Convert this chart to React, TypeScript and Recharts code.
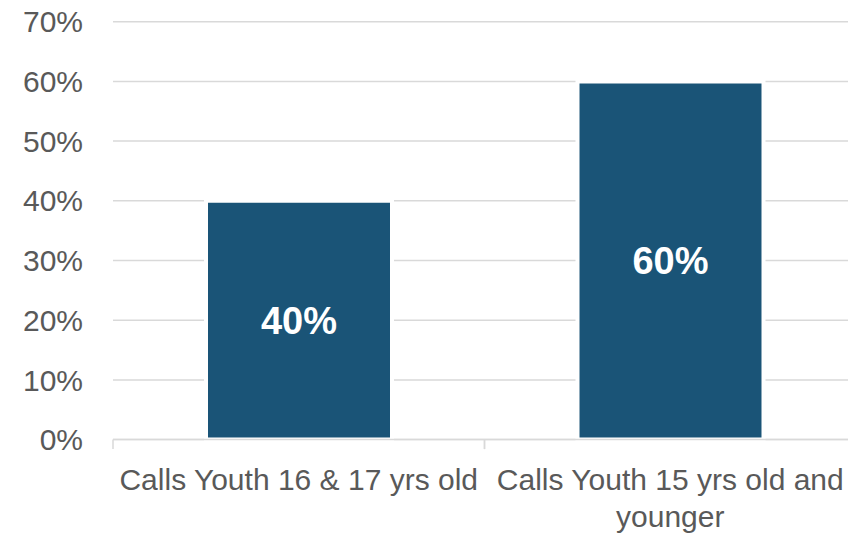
import React from "react";
import { BarChart, Bar, XAxis, YAxis, CartesianGrid, LabelList } from "recharts";

const categories = ["Calls Youth 16 & 17 yrs old", "Calls Youth 15 yrs old and younger"];
const values = [40, 60];
const yTicks = [0, 10, 20, 30, 40, 50, 60, 70];

const data = categories.map((name, i) => ({ name, value: values[i] }));

const CHART_W = 856;
const CHART_H = 534;
const Y_AXIS_W = 113;
const X_AXIS_H = 94.4;
const TOP = 21.7;
const CAT_W = (CHART_W - Y_AXIS_W) / categories.length;

const TEXT_COLOR = "#595959";
const GRID_COLOR = "#d9d9d9";
const BAR_COLOR = "#1a5477";
const FONT = "'Liberation Sans', Arial, sans-serif";
const LABEL_SIZE = 30;

let measureCtx: CanvasRenderingContext2D | null = null;
function measure(s: string): number {
  if (!measureCtx) {
    const c = document.createElement("canvas");
    measureCtx = c.getContext("2d");
  }
  if (!measureCtx) return s.length * LABEL_SIZE * 0.5;
  measureCtx.font = `${LABEL_SIZE}px ${FONT}`;
  return measureCtx.measureText(s).width;
}

function wrap(s: string, maxW: number): string[] {
  const words = s.split(" ");
  const lines: string[] = [];
  let cur = "";
  for (const w of words) {
    const next = cur ? `${cur} ${w}` : w;
    if (cur && measure(next) > maxW) {
      lines.push(cur);
      cur = w;
    } else {
      cur = next;
    }
  }
  if (cur) lines.push(cur);
  return lines;
}

const YTick = (props: any) => {
  const { y, payload } = props;
  return (
    <text x={83} y={y} dy="0.355em" textAnchor="end" fill={TEXT_COLOR} fontSize={30} fontFamily={FONT}>
      {`${payload.value}%`}
    </text>
  );
};

const XTick = (props: any) => {
  const { x, y, payload } = props;
  const left = x - CAT_W / 2;
  const lines = wrap(String(payload.value), CAT_W - 4);
  return (
    <g>
      <line x1={left} x2={left} y1={y - 8} y2={y + 1.5} stroke={GRID_COLOR} strokeWidth={1.5} />
      <line x1={left + CAT_W} x2={left + CAT_W} y1={y - 8} y2={y + 1.5} stroke={GRID_COLOR} strokeWidth={1.5} />
      <text x={x} y={y + 42.5} textAnchor="middle" fill={TEXT_COLOR} fontSize={LABEL_SIZE} fontFamily={FONT}>
        {lines.map((ln, i) => (
          <tspan key={i} x={x} dy={i === 0 ? 0 : 36.5}>
            {ln}
          </tspan>
        ))}
      </text>
    </g>
  );
};

export default function App() {
  return (
    <div
      style={{
        position: "fixed",
        left: 0,
        top: 0,
        width: 848,
        height: 534,
        overflow: "hidden",
        background: "#ffffff",
      }}
    >
      <BarChart
        width={CHART_W}
        height={CHART_H}
        data={data}
        margin={{ top: TOP, right: 0, bottom: 0, left: 0 }}
      >
        <CartesianGrid vertical={false} stroke={GRID_COLOR} strokeWidth={1.5} />
        <YAxis
          width={Y_AXIS_W}
          domain={[0, 70]}
          ticks={yTicks}
          axisLine={false}
          tickLine={false}
          tick={<YTick />}
          interval={0}
        />
        <Bar
          dataKey="value"
          fill={BAR_COLOR}
          stroke="#ffffff"
          strokeWidth={4}
          barSize={186}
          isAnimationActive={false}
        >
          <LabelList
            dataKey="value"
            position="center"
            formatter={(v: any) => `${v}%`}
            fill="#ffffff"
            fontSize={38}
            fontWeight="bold"
            fontFamily={FONT}
          />
        </Bar>
        <XAxis
          dataKey="name"
          height={X_AXIS_H}
          axisLine={{ stroke: GRID_COLOR, strokeWidth: 1.5 }}
          tickLine={false}
          tick={<XTick />}
          interval={0}
        />
      </BarChart>
    </div>
  );
}
